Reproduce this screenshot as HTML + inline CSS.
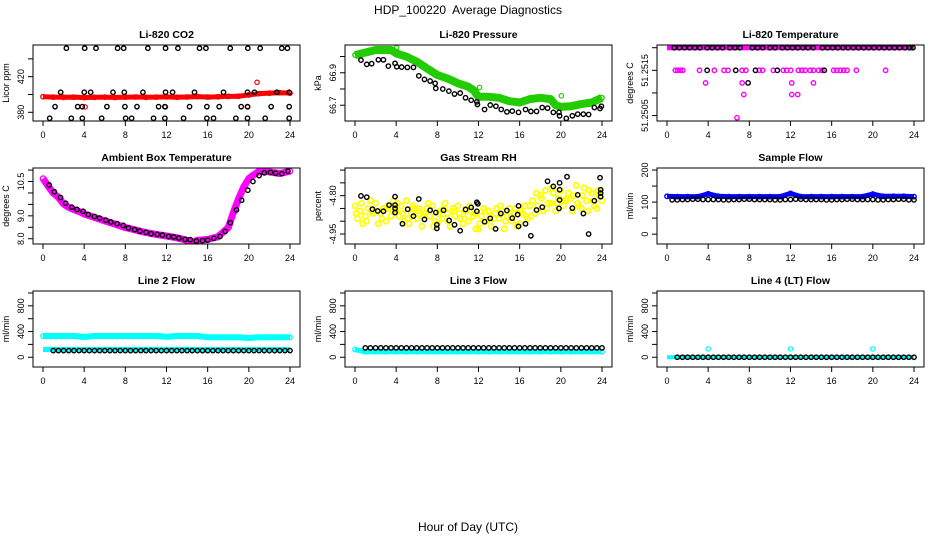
<!DOCTYPE html>
<html><head><meta charset="utf-8"><style>
html,body{margin:0;padding:0;background:#fff;}
svg{display:block;font-family:"Liberation Sans",Arial,sans-serif;}
</style></head><body>
<svg id="chart" width="936" height="540" viewBox="0 0 936 540" xmlns="http://www.w3.org/2000/svg">
<text x="468" y="14" font-size="12" text-anchor="middle" xml:space="preserve">HDP_100220  Average Diagnostics</text>
<text x="468" y="531" font-size="12" text-anchor="middle">Hour of Day (UTC)</text>
</svg>
<script>
// ---- data ----
const xTicks=[0,4,8,12,16,20,24];
const hours=[0,1,2,3,4,5,6,7,8,9,10,11,12,13,14,15,16,17,18,19,20,21,22,23,24];
const halfHours=[0.5,1,1.5,2,2.5,3,3.5,4,4.5,5,5.5,6,6.5,7,7.5,8,8.5,9,9.5,10,10.5,11,11.5,12,12.5,13,13.5,14,14.5,15,15.5,16,16.5,17,17.5,18,18.5,19,19.5,20,20.5,21,21.5,22,22.5,23,23.5,24];
// CO2
const co2RedVals=[397.5,397,396.8,397,396.5,396.8,397,396.6,397,397.2,396.8,397,397.3,396.9,397.2,397.6,397.1,397.4,397.8,398,399.5,401,401.5,402,401.5];
const co2RedOutH=[20.8,4.1,11.9,19.9];
const co2RedOutV=[413.7,386,386,386];
const co2BlackH=[2.27,4.05,5.15,7.25,7.84,10.19,11.91,13.11,15.21,15.83,18.19,19.9,21.1,23.2,23.75,1.72,4.01,4.63,6.8,7.9,9.71,11.91,12.59,14.72,17.54,19.87,20.55,22.72,23.92,1.17,3.37,3.82,6.21,7.96,9.13,11.23,11.84,14.24,15.92,17.12,19.26,19.87,22.17,23.92,0.65,2.75,3.82,5.7,8.03,8.61,10.74,11.84,13.66,15.92,16.57,18.74,19.87,21.59,23.92];
const co2BlackV=[452,452,452,452,452,452,452,452,452,452,452,452,452,452,452,402.5,402.5,402.5,402.5,402.5,402.5,402.5,402.5,402.5,402.5,402.5,402.5,402.5,402.5,386.3,386.3,386.3,386.3,386.3,386.3,386.3,386.3,386.3,386.3,386.3,386.3,386.3,386.3,386.3,373.3,373.3,373.3,373.3,373.3,373.3,373.3,373.3,373.3,373.3,373.3,373.3,373.3,373.3,373.3];
// Pressure
const presGreenH=[0,2,3.5,4,5,6,7,8,9,10,11,11.5,12,13,14,15,16,17,18,19,19.5,20,21,22,23,24];
const presGreenV=[67.009,67.04,67.04,67.02,66.999,66.968,66.927,66.886,66.865,66.835,66.814,66.793,66.752,66.752,66.746,66.725,66.717,66.738,66.746,66.738,66.701,66.69,66.694,66.707,66.717,66.746];
const presGreenOutH=[4.05,12.1,20.05];
const presGreenOutV=[67.054,66.81,66.758];
const presBlackH=[0.58,1.14,1.62,2.27,2.76,3.24,3.89,4.05,4.53,5.09,5.68,6.2,6.75,7.3,7.79,7.85,8.53,9.12,9.67,10.22,10.74,11.29,11.84,11.9,12.59,13.14,13.69,14.21,14.76,15.28,15.89,16.57,17.09,17.64,18.19,18.71,19.27,19.82,19.88,20.53,21.12,21.64,22.19,22.7,23.26,23.81,23.94];
const presBlackV=[66.978,66.952,66.956,66.98,66.98,66.941,66.958,66.937,66.935,66.933,66.933,66.881,66.859,66.849,66.835,66.804,66.8,66.787,66.769,66.775,66.746,66.731,66.721,66.705,66.674,66.701,66.694,66.674,66.659,66.664,66.656,66.674,66.662,66.662,66.686,66.682,66.656,66.656,66.635,66.619,66.635,66.645,66.645,66.643,66.686,66.68,66.694];
// LI-820 temperature
const tempTopV=[51.252,51.252,51.252,51.252,51.252,51.252,51.252,51.252,51.252,51.252,51.252,51.252,51.252,51.252,51.252,51.252,51.252,51.252,51.252,51.252,51.252,51.252,51.252,51.252,51.252];
const tempMagH=[0.81,1.04,1.3,1.53,3.16,4.6,5.54,5.93,7.3,7.66,8.96,9.28,10.33,11.3,11.63,12.02,12.77,13.1,13.42,13.91,14.23,14.72,15.05,16.19,16.51,16.84,17.17,17.49,18.4,21.24,3.75,7.3,12.12,14.23,7.46,12.12,12.7,6.8];
const tempMagV=[51.2515,51.2515,51.2515,51.2515,51.2515,51.2515,51.2515,51.2515,51.2515,51.2515,51.2515,51.2515,51.2515,51.2515,51.2515,51.2515,51.2515,51.2515,51.2515,51.2515,51.2515,51.2515,51.2515,51.2515,51.2515,51.2515,51.2515,51.2515,51.2515,51.2515,51.251222,51.251222,51.251222,51.251222,51.250965,51.250965,51.250965,51.250451];
const tempBlackH=[3.9,6.68,8.6,10.72,15.28,7.88,0.7,1.2,1.7,2.2,2.7,3.2,3.9,4.4,4.9,5.4,6.1,6.6,7.1,8.3,8.8,9.3,10.0,10.5,11.2,11.7,12.2,12.7,13.2,13.7,14.2,15.1,15.6,16.1,16.6,17.1,17.6,18.1,18.6,19.1,19.6,20.1,20.6,21.1,21.6,22.1,22.6,23.1,23.6,23.9];
const tempBlackV=[51.2515,51.2515,51.2515,51.2515,51.2515,51.251222,51.252,51.252,51.252,51.252,51.252,51.252,51.252,51.252,51.252,51.252,51.252,51.252,51.252,51.252,51.252,51.252,51.252,51.252,51.252,51.252,51.252,51.252,51.252,51.252,51.252,51.252,51.252,51.252,51.252,51.252,51.252,51.252,51.252,51.252,51.252,51.252,51.252,51.252,51.252,51.252,51.252,51.252,51.252,51.252];
// Ambient box temperature
const ambH=[0,0.5,1,1.5,2,2.5,3,3.5,4,5,6,7,8,9,10,11,12,13,14,14.5,15,16,17,18,18.5,19,19.5,20,20.5,21,22,23,24];
const ambV=[10.63,10.3,9.99,9.81,9.52,9.37,9.27,9.19,9.08,8.93,8.78,8.64,8.49,8.38,8.27,8.19,8.12,8.04,7.93,7.85,7.93,7.97,8.09,8.49,9.15,9.74,10.26,10.63,10.8,10.95,10.92,10.85,10.95];
const ambBlackH=[0.6,1.1,1.7,2.2,2.8,3.3,3.9,4.4,5.0,5.5,6.1,6.6,7.2,7.8,8.3,8.9,9.4,10.0,10.5,11.1,11.6,12.2,12.7,13.2,13.8,14.3,14.9,15.5,16.0,16.6,17.2,17.7,18.2,18.8,19.3,19.9,20.4,21.0,21.5,22.1,22.6,23.2,23.8];
const ambBlackV=[10.35,10.05,9.8,9.55,9.38,9.28,9.2,9.06,8.97,8.9,8.81,8.73,8.66,8.58,8.47,8.4,8.33,8.28,8.22,8.19,8.16,8.1,8.08,8.03,7.97,7.96,7.9,7.92,7.94,8.02,8.1,8.32,8.7,9.26,9.68,10.12,10.5,10.76,10.88,10.9,10.86,10.84,10.95];
// Gas stream RH
const rhA=[-4.84,-4.88,-4.83,-4.90,-4.86,-4.82,-4.89,-4.85,-4.91,-4.87,-4.84,-4.90,-4.93,-4.86,-4.89,-4.85,-4.91,-4.84,-4.80,-4.83,-4.78,-4.81,-4.85,-4.79,-4.82];
const rhB=[-4.89,-4.85,-4.91,-4.84,-4.88,-4.91,-4.85,-4.88,-4.86,-4.92,-4.89,-4.86,-4.88,-4.92,-4.86,-4.90,-4.87,-4.82,-4.86,-4.79,-4.84,-4.80,-4.77,-4.84];
const rhC=[-4.86,-4.82,-4.87,-4.88,-4.84,-4.87,-4.92,-4.84,-4.89,-4.85,-4.91,-4.88,-4.85,-4.89,-4.93,-4.87,-4.84,-4.87,-4.78,-4.86,-4.82,-4.76,-4.82,-4.85];
const rhD=[-4.91,-4.87,-4.85,-4.82,-4.90,-4.85,-4.87,-4.90,-4.83,-4.88,-4.86,-4.93,-4.90,-4.85,-4.88,-4.92,-4.89,-4.84,-4.83,-4.81,-4.79,-4.84,-4.78,-4.80];
const rhE=[-4.87,-4.90,-4.86,-4.85,-4.83,-4.89,-4.86,-4.83,-4.87,-4.90,-4.87,-4.84,-4.91,-4.88,-4.84,-4.88,-4.86,-4.88,-4.81,-4.77,-4.82,-4.86,-4.80,-4.82];
const rhF=[-4.83,-4.86,-4.89,-4.86,-4.87,-4.84,-4.88,-4.92,-4.85,-4.86,-4.89,-4.87,-4.86,-4.87,-4.90,-4.85,-4.88,-4.79,-4.85,-4.83,-4.81,-4.83,-4.86,-4.78];
const rhBlackH=[0.58,1.14,1.69,2.21,2.76,3.31,3.89,3.89,3.89,3.89,4.61,5.12,5.68,6.2,6.75,7.3,7.85,7.95,7.95,8.6,9.15,9.67,10.22,10.74,11.29,11.84,11.94,11.84,12.59,13.14,13.66,14.17,14.76,15.28,15.8,15.89,15.89,16.57,17.09,17.64,18.2,18.71,19.27,19.88,19.88,19.88,19.82,20.6,21.12,21.64,22.19,22.7,23.26,23.81,23.87,23.87,23.87];
const rhBlackV=[-4.801,-4.806,-4.853,-4.86,-4.861,-4.837,-4.804,-4.837,-4.85,-4.866,-4.91,-4.853,-4.88,-4.813,-4.893,-4.857,-4.866,-4.914,-4.928,-4.857,-4.897,-4.914,-4.937,-4.854,-4.846,-4.826,-4.832,-4.861,-4.902,-4.889,-4.93,-4.87,-4.858,-4.888,-4.874,-4.84,-4.92,-4.91,-4.957,-4.856,-4.845,-4.744,-4.764,-4.75,-4.777,-4.817,-4.85,-4.726,-4.849,-4.797,-4.87,-4.95,-4.82,-4.73,-4.777,-4.79,-4.804];
// Sample flow
const sampleBlue=[118,117,117,117,126,118,117,117,117,117,117,117,127,117,117,117,117,117,117,117,125,118,118,118,117];
const sampleBlack=[108,107,108,109,108,108,107,108,109,108,108,107,108,109,108,108,107,108,109,108,108,107,108,109,107];
// Line flows
const line2CyanHi=[330,330,330,330,315,330,330,330,330,330,330,330,318,330,330,330,310,310,310,310,300,310,310,310,310];
const line2CyanLo=[120,120,120,120,120,120,120,120,120,120,120,120,120,120,120,120,120,120,120,120,120,120,120,120,120];
const line2Black=[103,103,103,103,103,103,103,103,103,103,103,103,103,103,103,103,103,103,103,103,103,103,103,103,103,103,103,103,103,103,103,103,103,103,103,103,103,103,103,103,103,103,103,103,103,103,103,103];
const line3Cyan=[120,85,85,85,85,85,85,85,85,85,85,85,85,85,85,85,85,85,85,85,85,85,85,85,85];
const line3Black=[145,145,145,145,145,145,145,145,145,145,145,145,145,145,145,145,145,145,145,145,145,145,145,145,145,145,145,145,145,145,145,145,145,145,145,145,145,145,145,145,145,145,145,145,145,145,145,145];
const line4Cyan=[0,0,0,0,0,0,0,0,0,0,0,0,0,0,0,0,0,0,0,0,0,0,0,0,0];
const line4CyanOutH=[4,12,20];
const line4CyanOutV=[130,130,130];
const line4Black=[0,0,0,0,0,0,0,0,0,0,0,0,0,0,0,0,0,0,0,0,0,0,0,0,0,0,0,0,0,0,0,0,0,0,0,0,0,0,0,0,0,0,0,0,0,0,0,0];

// ---- drawing ----
const NS="http://www.w3.org/2000/svg";
const svg=document.getElementById('chart');
const colL=[33,345,657], rowT=[45,168,291], BW=267, BH=76;
function mk(tag,attrs,parent){const e=document.createElementNS(NS,tag);for(const k in attrs)e.setAttribute(k,attrs[k]);(parent||svg).appendChild(e);return e;}
function panel(c,r,title,ylab,ymin,ymax,ticks,labels,key){
  const g=mk('g',{});
  
  
  const L=colL[c],T=rowT[r];
  const sx=h=>L+10+h*(BW-20)/24;
  const sy=v=>T+BH-(v-ymin)/(ymax-ymin)*BH;
  const t=mk('text',{x:L+BW/2,y:T-7,'font-size':10.5,'font-weight':'bold','text-anchor':'middle'},g);
  t.textContent=title;
  
  
  const yl=mk('text',{transform:`translate(${L-24},${T+BH/2}) rotate(-90)`,'font-size':9,'text-anchor':'middle'},g);
  yl.textContent=ylab;
  
  
  xTicks.forEach(h=>{
    mk('line',{x1:sx(h),x2:sx(h),y1:T+BH,y2:T+BH+5,stroke:'#000','stroke-width':1},g);
    const tx=mk('text',{x:sx(h),y:T+BH+17,'font-size':9,'text-anchor':'middle'},g);
    tx.textContent=h;
    
    
  });
  ticks.forEach((v,i)=>{
    const y=sy(v);
    mk('line',{x1:L-5,x2:L,y1:y,y2:y,stroke:'#000','stroke-width':1},g);
    if(labels[i]!==''){
      const ty=mk('text',{transform:`translate(${L-9},${y}) rotate(-90)`,'font-size':9,'text-anchor':'middle'},g);
      ty.textContent=labels[i];
      
      
    }
  });
  const clip='clip'+key;
  const cp=mk('clipPath',{id:clip},g);
  mk('rect',{x:L,y:T,width:BW,height:BH},cp);
  const plot=mk('g',{'clip-path':`url(#${clip})`},g);
  
  
  mk('rect',{x:L,y:T,width:BW,height:BH,fill:'none',stroke:'#000','stroke-width':1},g);
  return {sx,sy,plot};
}
function pts(p,xs,ys,color,r,sw,name){
  xs.forEach((h,i)=>{
    const c=mk('circle',{cx:p.sx(h),cy:p.sy(ys[i]),r:r,fill:'none',stroke:color,'stroke-width':sw},p.plot);
    
    
  });
}
function band(p,xs,ys,color,w,name){
  const d=xs.map((h,i)=>p.sx(h).toFixed(1)+','+p.sy(ys[i]).toFixed(1)).join(' ');
  const l=mk('polyline',{points:d,fill:'none',stroke:color,'stroke-width':w,'stroke-linejoin':'round','stroke-linecap':'butt'},p.plot);
  
  
}
function shift(arr,o){return arr.map(h=>h+o);}
const R=2.2, SW=1.4;

// Panel 1
let p=panel(0,0,'Li-820 CO2','Licor ppm',370.2,455.6,[380,400,420,440],['380','','420',''],'co2');
band(p,hours,co2RedVals,'#ff0000',5,'co2-red-band');
pts(p,hours,co2RedVals,'#ff0000',R,SW,'co2-red-point');
pts(p,co2RedOutH,co2RedOutV,'#ff0000',R,1.2,'co2-red-outlier');
pts(p,co2BlackH,co2BlackV,'#000',R,SW,'co2-black-point');
// Panel 2
p=panel(1,0,'Li-820 Pressure','kPa',66.603,67.071,[66.7,66.8,66.9,67.0],['66.7','','66.9',''],'pressure');
band(p,presGreenH,presGreenV,'#22cc00',8,'pressure-green-band');
pts(p,presGreenH,presGreenV,'#22cc00',R,SW,'pressure-green-point');
pts(p,presGreenOutH,presGreenOutV,'#22cc00',R,1.2,'pressure-green-outlier');
pts(p,presBlackH,presBlackV,'#000',R,SW,'pressure-black-point');
// Panel 3
p=panel(2,0,'Li-820 Temperature','degrees C',51.25038,51.25206,[51.2505,51.251,51.2515,51.252],['51.2505','','51.2515',''],'li820-temp');
band(p,hours,tempTopV,'#ff00ff',5,'temp-magenta-band');
pts(p,tempMagH,tempMagV,'#ff00ff',R,SW,'temp-magenta-point');
pts(p,tempBlackH,tempBlackV,'#000',R,SW,'temp-black-point');
// Panel 4
p=panel(0,1,'Ambient Box Temperature','degrees C',7.77,11.09,[8.0,8.5,9.0,9.5,10.0,10.5,11.0],['8.0','','9.0','','','10.5',''],'ambient');
band(p,ambH,ambV,'#ff00ff',7,'ambient-magenta-band');
pts(p,ambH,ambV,'#ff00ff',2.6,SW,'ambient-magenta-point');
pts(p,ambBlackH,ambBlackV,'#000',R,SW,'ambient-black-point');
// Panel 5
p=panel(1,1,'Gas Stream RH','percent',-4.989,-4.692,[-4.95,-4.9,-4.85,-4.8,-4.75,-4.7],['-4.95','','','-4.80','',''],'gas-rh');
pts(p,hours,rhA,'#ffff00',2.6,1.8,'rh-yellow-point');
pts(p,shift(hours.slice(0,24),0.25),rhB,'#ffff00',2.6,1.8,'rh-yellow-point');
pts(p,shift(hours.slice(0,24),0.5),rhC,'#ffff00',2.6,1.8,'rh-yellow-point');
pts(p,shift(hours.slice(0,24),0.75),rhD,'#ffff00',2.6,1.8,'rh-yellow-point');
pts(p,shift(hours.slice(0,24),0.125),rhE,'#ffff00',2.6,1.8,'rh-yellow-point');
pts(p,shift(hours.slice(0,24),0.625),rhF,'#ffff00',2.6,1.8,'rh-yellow-point');
pts(p,rhBlackH,rhBlackV,'#000',R,SW,'rh-black-point');
// Panel 6
p=panel(2,1,'Sample Flow','ml/min',-30.7,206.3,[0,50,100,150,200],['0','','100','','200'],'sample-flow');
band(p,hours,sampleBlue,'#0000ff',5,'sample-blue-band');
pts(p,hours,sampleBlue,'#0000ff',R,SW,'sample-blue-point');
pts(p,hours.slice(1),sampleBlack.slice(1),'#000',R,SW,'sample-black-point');
pts(p,shift(hours.slice(0,24),0.5),sampleBlack.slice(1),'#000',R,SW,'sample-black-point');
// Panel 7
const flowTicks=[0,200,400,600,800,1000], flowLabels=['0','','400','','800',''];
p=panel(0,2,'Line 2 Flow','ml/min',-152,1031,flowTicks,flowLabels,'line2');
band(p,hours,line2CyanHi,'#00ffff',6,'line2-cyan-high-band');
pts(p,hours,line2CyanHi,'#00ffff',R,SW,'line2-cyan-high-point');
band(p,hours,line2CyanLo,'#00ffff',5,'line2-cyan-low-band');
pts(p,halfHours.slice(1),line2Black.slice(1),'#000',R,SW,'line2-black-point');
// Panel 8
p=panel(1,2,'Line 3 Flow','ml/min',-152,1031,flowTicks,flowLabels,'line3');
band(p,hours,line3Cyan,'#00ffff',5,'line3-cyan-band');
pts(p,hours,line3Cyan,'#00ffff',R,SW,'line3-cyan-point');
pts(p,halfHours.slice(1),line3Black.slice(1),'#000',R,SW,'line3-black-point');
// Panel 9
p=panel(2,2,'Line 4 (LT) Flow','ml/min',-152,1031,flowTicks,flowLabels,'line4');
band(p,hours,line4Cyan,'#00ffff',4,'line4-cyan-band');
pts(p,line4CyanOutH,line4CyanOutV,'#00ffff',R,1.2,'line4-cyan-outlier');
pts(p,halfHours.slice(1),line4Black.slice(1),'#000',R,SW,'line4-black-point');
</script>
</body></html>
